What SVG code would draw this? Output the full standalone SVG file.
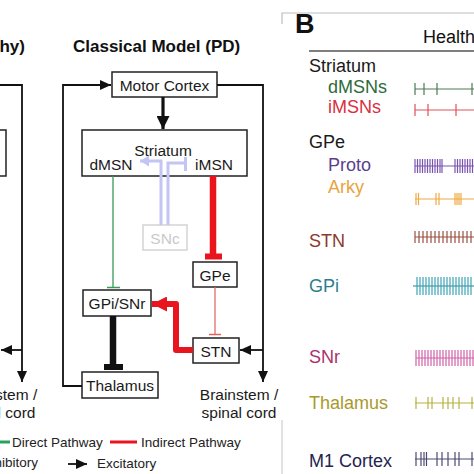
<svg xmlns="http://www.w3.org/2000/svg" width="474" height="474" viewBox="0 0 474 474">
<defs>
<style>
text{font-family:"Liberation Sans",Arial,sans-serif;}
.node rect{fill:#fff;stroke:#222;stroke-width:1.5;}
.node text{font-size:15.5px;fill:#1a1a1a;text-anchor:middle;}
.lbl{font-size:18px;}
.leg{font-size:13.5px;fill:#222;}
.blk{stroke:#111;fill:none;stroke-width:1.8;}
.train line{stroke-width:1.2;}
</style>
<marker id="arrB" markerUnits="userSpaceOnUse" markerWidth="11" markerHeight="10" refX="11" refY="5" orient="auto"><path d="M0,0 L11,5 L0,10 z" fill="#111"/></marker>
<marker id="arrBig" markerUnits="userSpaceOnUse" markerWidth="13" markerHeight="13" refX="13" refY="6.5" orient="auto"><path d="M0,0 L13,6.5 L0,13 z" fill="#111"/></marker>
<marker id="arrR" markerUnits="userSpaceOnUse" markerWidth="15" markerHeight="15" refX="15" refY="7.5" orient="auto"><path d="M0,0 L15,7.5 L0,15 z" fill="#e8141e"/></marker>
<marker id="arrL" markerUnits="userSpaceOnUse" markerWidth="9" markerHeight="11" refX="9" refY="5.5" orient="auto"><path d="M0,0 L9,5.5 L0,11 z" fill="#c3c6f5"/></marker>
</defs>
<rect width="474" height="474" fill="#fff"/>

<!-- Panel titles -->
<text x="25" y="52" font-size="17" font-weight="bold" text-anchor="end" fill="#111">Classical Model (Healthy)</text>
<text x="73" y="52" font-size="17" font-weight="bold" fill="#111">Classical Model (PD)</text>

<!-- Healthy panel (cropped) -->
<g id="healthy-striatum" class="node"><rect x="-159" y="130" width="165" height="46"/></g>
<g id="healthy-brainstem"><text x="-2" y="400" font-size="15.5" text-anchor="middle" fill="#1a1a1a">Brainstem /</text><text x="-2" y="418" font-size="15.5" text-anchor="middle" fill="#1a1a1a">spinal cord</text></g>

<!-- PD panel nodes -->
<g id="motor-cortex" class="node"><rect x="112" y="72" width="105" height="25"/><text x="164.5" y="90.5">Motor Cortex</text></g>
<g id="striatum" class="node"><rect x="82" y="130" width="165" height="46"/><text x="163" y="156">Striatum</text><text x="111" y="170">dMSN</text><text x="214" y="170">iMSN</text></g>
<g id="snc"><rect x="143" y="225" width="44" height="25" fill="#fff" stroke="#d4d4d4" stroke-width="1.5"/><text x="165" y="244" font-size="15.5" text-anchor="middle" fill="#c9c9c9">SNc</text></g>
<g id="gpe" class="node"><rect x="193" y="262" width="44" height="25"/><text x="215" y="281">GPe</text></g>
<g id="stn" class="node"><rect x="193" y="338" width="46" height="25"/><text x="216" y="357">STN</text></g>
<g id="gpi-snr" class="node"><rect x="83" y="290" width="68" height="26"/><text x="117" y="309">GPi/SNr</text></g>
<g id="thalamus" class="node"><rect x="82" y="372" width="76" height="26"/><text x="120" y="391">Thalamus</text></g>
<g id="brainstem"><text x="239" y="400" font-size="15.5" text-anchor="middle" fill="#1a1a1a">Brainstem /</text><text x="239" y="418" font-size="15.5" text-anchor="middle" fill="#1a1a1a">spinal cord</text></g>

<!-- Connectors -->
<g id="connectors">
  <!-- healthy panel -->
  <path class="blk" d="M-24,85 H22 V382" marker-end="url(#arrB)"/>
  <path class="blk" d="M22,350 H1" marker-end="url(#arrB)"/>
  <!-- PD panel -->
  <path d="M163,97 V129" stroke="#111" stroke-width="3.2" fill="none" marker-end="url(#arrBig)"/>
  <path class="blk" d="M82,386 H63 V85 H111" marker-end="url(#arrB)"/>
  <path class="blk" d="M217,85 H263 V382" marker-end="url(#arrB)"/>
  <path class="blk" d="M263,350 H240" marker-end="url(#arrB)"/>
  <!-- SNc modulatory -->
  <path d="M161,225 V161 H140" stroke="#c3c6f5" stroke-width="3" fill="none" marker-end="url(#arrL)"/>
  <path d="M168,225 V163 H185" stroke="#c3c6f5" stroke-width="3" fill="none"/>
  <line x1="185.5" y1="157" x2="185.5" y2="171" stroke="#c3c6f5" stroke-width="3"/>
  <!-- direct pathway -->
  <line x1="113" y1="176" x2="113" y2="287" stroke="#3a9a5a" stroke-width="1.3"/>
  <line x1="107" y1="287.5" x2="120" y2="287.5" stroke="#3a9a5a" stroke-width="1.5"/>
  <!-- indirect pathway -->
  <line x1="213" y1="176" x2="213" y2="255" stroke="#e8141e" stroke-width="6.5"/>
  <line x1="205" y1="256.5" x2="222" y2="256.5" stroke="#e8141e" stroke-width="6"/>
  <line x1="215" y1="287" x2="215" y2="334" stroke="#e06060" stroke-width="1.2"/>
  <line x1="209" y1="334.5" x2="221" y2="334.5" stroke="#e06060" stroke-width="1.5"/>
  <path d="M193,350 H176 V304 H152" stroke="#e8141e" stroke-width="6" fill="none" stroke-linejoin="round" marker-end="url(#arrR)"/>
  <!-- GPi/SNr -> Thalamus -->
  <line x1="113" y1="316" x2="113" y2="365" stroke="#111" stroke-width="6.5"/>
  <line x1="104" y1="367" x2="123" y2="367" stroke="#111" stroke-width="6"/>
</g>

<!-- Legend -->
<g id="legend">
  <line x1="0" y1="442" x2="10" y2="442" stroke="#2aa060" stroke-width="3"/>
  <text class="leg" x="12" y="447">Direct Pathway</text>
  <line x1="110" y1="442" x2="137" y2="442" stroke="#e8141e" stroke-width="3"/>
  <text class="leg" x="141" y="447">Indirect Pathway</text>
  <text class="leg" x="38" y="467" text-anchor="end">Inhibitory</text>
  <path d="M68,464 H87" stroke="#111" stroke-width="1.8" marker-end="url(#arrB)"/>
  <text class="leg" x="97" y="468">Excitatory</text>
</g>

<!-- Panel B -->
<g id="panelB">
  <path d="M282,24 V13 H474" fill="none" stroke="#bdbdbd" stroke-width="1.2"/>
  <line x1="282" y1="420" x2="282" y2="474" stroke="#cfcfcf" stroke-width="1.2"/>
  <text x="295" y="33" font-size="27" font-weight="bold" fill="#111">B</text>
  <text x="423" y="43" font-size="18" fill="#111">Healthy</text>
  <line x1="309" y1="51" x2="474" y2="51" stroke="#555" stroke-width="1.5"/>
  <text class="lbl" x="309" y="72" fill="#1a1a1a">Striatum</text>
  <text class="lbl" x="328" y="93" fill="#2e6b3a">dMSNs</text>
  <text class="lbl" x="328" y="113" fill="#d9303f">iMSNs</text>
  <text class="lbl" x="309" y="148" fill="#1a1a1a">GPe</text>
  <text class="lbl" x="328" y="171" fill="#5b3f8f">Proto</text>
  <text class="lbl" x="328" y="193" fill="#e8a33c">Arky</text>
  <text class="lbl" x="309" y="247" fill="#8b3a2e">STN</text>
  <text class="lbl" x="309" y="292" fill="#2a7f8c">GPi</text>
  <text class="lbl" x="309" y="363" fill="#a8336e">SNr</text>
  <text class="lbl" x="309" y="409" fill="#a89a2a">Thalamus</text>
  <text class="lbl" x="309" y="467" fill="#23234f">M1 Cortex</text>

  <g class="train" stroke="#4a7a52"><line x1="415" y1="89" x2="474" y2="89"/>
    <line x1="415" y1="83" x2="415" y2="95"/><line x1="424" y1="83" x2="424" y2="95"/><line x1="437" y1="83" x2="437" y2="95"/><line x1="472" y1="83" x2="472" y2="95" stroke-width="3"/></g>
  <g class="train" stroke="#e0505a"><line x1="415" y1="110" x2="474" y2="110"/>
    <line x1="415" y1="104" x2="415" y2="116"/><line x1="428" y1="104" x2="428" y2="116"/><line x1="456" y1="104" x2="456" y2="116"/></g>
  <g class="train" stroke="#7a55b0"><line x1="415" y1="166" x2="474" y2="166"/>
    <line x1="415" y1="159" x2="415" y2="173"/><line x1="417.5" y1="159" x2="417.5" y2="173"/><line x1="420" y1="159" x2="420" y2="173"/><line x1="422.5" y1="159" x2="422.5" y2="173"/><line x1="425" y1="159" x2="425" y2="173"/><line x1="427.5" y1="159" x2="427.5" y2="173"/><line x1="430" y1="159" x2="430" y2="173"/><line x1="432.5" y1="159" x2="432.5" y2="173"/><line x1="435" y1="159" x2="435" y2="173"/><line x1="437.5" y1="159" x2="437.5" y2="173"/><line x1="440" y1="159" x2="440" y2="173"/><line x1="442" y1="159" x2="442" y2="173"/>
    <line x1="455" y1="159" x2="455" y2="173"/><line x1="457.5" y1="159" x2="457.5" y2="173"/><line x1="460" y1="159" x2="460" y2="173"/><line x1="462.5" y1="159" x2="462.5" y2="173"/><line x1="465" y1="159" x2="465" y2="173"/><line x1="467.5" y1="159" x2="467.5" y2="173"/><line x1="470" y1="159" x2="470" y2="173"/><line x1="472.5" y1="159" x2="472.5" y2="173"/></g>
  <g class="train" stroke="#f0a840"><line x1="415" y1="199" x2="474" y2="199"/>
    <line x1="416" y1="193" x2="416" y2="205"/><line x1="418.5" y1="193" x2="418.5" y2="205"/><line x1="436" y1="193" x2="436" y2="205"/><line x1="439" y1="193" x2="439" y2="205"/><line x1="455" y1="193" x2="455" y2="205"/><line x1="457" y1="193" x2="457" y2="205"/><line x1="459" y1="193" x2="459" y2="205"/><line x1="461" y1="193" x2="461" y2="205"/></g>
  <g class="train" stroke="#9a5040"><line x1="415" y1="237" x2="474" y2="237"/>
    <line x1="415" y1="231" x2="415" y2="243"/><line x1="419" y1="231" x2="419" y2="243"/><line x1="423" y1="231" x2="423" y2="243"/><line x1="427" y1="231" x2="427" y2="243"/><line x1="431" y1="231" x2="431" y2="243"/><line x1="435" y1="231" x2="435" y2="243"/><line x1="439" y1="231" x2="439" y2="243"/><line x1="443" y1="231" x2="443" y2="243"/><line x1="447" y1="231" x2="447" y2="243"/><line x1="451" y1="231" x2="451" y2="243"/><line x1="455" y1="231" x2="455" y2="243"/><line x1="459" y1="231" x2="459" y2="243"/><line x1="463" y1="231" x2="463" y2="243"/><line x1="467" y1="231" x2="467" y2="243"/><line x1="471" y1="231" x2="471" y2="243"/></g>
  <g class="train" stroke="#3aa5b8"><line x1="413" y1="286" x2="474" y2="286" stroke="#2a7f8c"/>
    <line x1="417" y1="277" x2="417" y2="295"/><line x1="420" y1="277" x2="420" y2="295"/><line x1="423" y1="277" x2="423" y2="295"/><line x1="426" y1="277" x2="426" y2="295"/><line x1="429" y1="277" x2="429" y2="295"/><line x1="432" y1="277" x2="432" y2="295"/><line x1="435" y1="277" x2="435" y2="295"/><line x1="438" y1="277" x2="438" y2="295"/><line x1="441" y1="277" x2="441" y2="295"/><line x1="444" y1="277" x2="444" y2="295"/><line x1="447" y1="277" x2="447" y2="295"/><line x1="450" y1="277" x2="450" y2="295"/><line x1="453" y1="277" x2="453" y2="295"/><line x1="456" y1="277" x2="456" y2="295"/><line x1="459" y1="277" x2="459" y2="295"/><line x1="462" y1="277" x2="462" y2="295"/><line x1="465" y1="277" x2="465" y2="295"/><line x1="468" y1="277" x2="468" y2="295"/><line x1="471" y1="277" x2="471" y2="295"/></g>
  <g class="train" stroke="#d060a8"><line x1="416" y1="358" x2="474" y2="358"/>
    <line x1="416" y1="350" x2="416" y2="366"/><line x1="419" y1="350" x2="419" y2="366"/><line x1="422" y1="350" x2="422" y2="366"/><line x1="425" y1="350" x2="425" y2="366"/><line x1="428" y1="350" x2="428" y2="366"/><line x1="431" y1="350" x2="431" y2="366"/><line x1="434" y1="350" x2="434" y2="366"/><line x1="437" y1="350" x2="437" y2="366"/><line x1="440" y1="350" x2="440" y2="366"/><line x1="443" y1="350" x2="443" y2="366"/><line x1="446" y1="350" x2="446" y2="366"/><line x1="449" y1="350" x2="449" y2="366"/><line x1="452" y1="350" x2="452" y2="366"/><line x1="455" y1="350" x2="455" y2="366"/><line x1="458" y1="350" x2="458" y2="366"/><line x1="461" y1="350" x2="461" y2="366"/><line x1="464" y1="350" x2="464" y2="366"/><line x1="467" y1="350" x2="467" y2="366"/><line x1="470" y1="350" x2="470" y2="366"/><line x1="473" y1="350" x2="473" y2="366"/></g>
  <g class="train" stroke="#b8b040"><line x1="415" y1="403" x2="474" y2="403"/>
    <line x1="416" y1="397" x2="416" y2="409"/><line x1="428" y1="397" x2="428" y2="409"/><line x1="432" y1="397" x2="432" y2="409"/><line x1="443" y1="397" x2="443" y2="409"/><line x1="448" y1="397" x2="448" y2="409"/><line x1="453" y1="397" x2="453" y2="409"/><line x1="459" y1="397" x2="459" y2="409"/><line x1="472" y1="397" x2="472" y2="409"/></g>
  <g class="train" stroke="#4a4a70"><line x1="415" y1="459" x2="474" y2="459"/>
    <line x1="416" y1="452" x2="416" y2="466"/><line x1="421" y1="452" x2="421" y2="466"/><line x1="424" y1="452" x2="424" y2="466"/><line x1="426.5" y1="452" x2="426.5" y2="466"/><line x1="437" y1="452" x2="437" y2="466"/><line x1="442" y1="452" x2="442" y2="466"/><line x1="448" y1="452" x2="448" y2="466"/><line x1="455" y1="452" x2="455" y2="466"/><line x1="459" y1="452" x2="459" y2="466"/><line x1="472" y1="452" x2="472" y2="466"/></g>
</g>
</svg>
